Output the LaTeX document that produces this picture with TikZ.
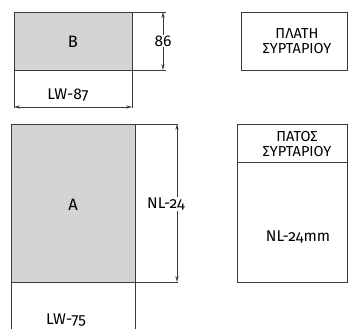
\documentclass[tikz,border=0pt]{standalone}
\usepackage{fontspec}
\setmainfont{Fira Sans}[Numbers=OldStyle]
\usetikzlibrary{arrows.meta}
\definecolor{panelgray}{HTML}{D4D4D4}
\definecolor{linegray}{HTML}{3A3A3A}
\tikzset{
  part/.style={draw=linegray, fill=panelgray},
  dimline/.style={draw=linegray, {Stealth[length=6pt,width=3.2pt]}-{Stealth[length=6pt,width=3.2pt]}},
  dimtext/.style={fill=white, inner sep=1pt, font=\fontsize{15.5}{18}\selectfont},
  greektext/.style={align=center, font=\fontsize{14.5}{15}\selectfont}
}
\begin{document}
\begin{tikzpicture}[x=1pt, y=-1pt, line width=0.7pt, draw=linegray]
\useasboundingbox (0,0) rectangle (348,329);
\clip (0,0) rectangle (348,329);

% part B, width piece
\draw[part] (14,12) rectangle (132,70);
\node[font=\fontsize{16.5}{18}\selectfont] (labB) at (73,42) {B};
\coordinate (bL) at (14,108);
\coordinate (bR) at (132,108);
\draw (14,70) -- (bL);
\draw (132,70) -- (bR);
\coordinate (hTop) at (166,12);
\coordinate (hBot) at (166,70);
\draw (132,12) -- (hTop);
\draw (132,70) -- (hBot);
\coordinate (hA) at (163,12);
\coordinate (hB) at (163,70);
\draw[dimline] (hA) -- (hB) node[midway, dimtext] (dimB) {86};
\coordinate (wA) at (14,107);
\coordinate (wB) at (132,107);
\draw[dimline] (wA) -- (wB);
\node[dimtext, fill=none] (lwB) at (68,95) {LW-87};

% part A, bottom piece
\draw[part] (11,124) rectangle (135,282);
\node[font=\fontsize{16.5}{18}\selectfont] (labA) at (73,205) {A};
\draw (11,282) -- (11,335);
\draw (135,282) -- (135,335);
\coordinate (vTop) at (178,124);
\coordinate (vBot) at (178,282);
\draw (135,124) -- (vTop);
\draw (135,282) -- (vBot);
\coordinate (vA) at (177,124);
\coordinate (vB) at (177,282);
\draw[dimline] (vA) -- (vB);
\node[dimtext] (dimA) at (166,204) {NL-24};
\node[dimtext, fill=none] (lwA) at (66,320) {LW-75};
\coordinate (uA) at (11,330.5);
\coordinate (uB) at (135,330.5);
\draw[dimline] (uA) -- (uB);

% side notes
\draw (241,12) rectangle (347.6,70);
\node[greektext] (plati) at (297,41) {ΠΛΑΤΗ\\ΣΥΡΤΑΡΙΟΥ};
\draw (237,124) rectangle (347.6,282);
\draw (237,162) -- (347.6,162);
\node[greektext] (patos) at (297,144) {ΠΑΤΟΣ\\ΣΥΡΤΑΡΙΟΥ};
\node[dimtext, fill=none] (nlmm) at (298,237) {NL-24mm};
\end{tikzpicture}
\end{document}
